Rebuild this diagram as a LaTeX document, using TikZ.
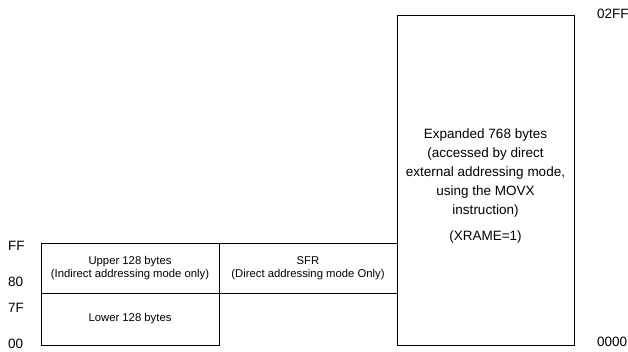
\documentclass[tikz,border=0pt]{standalone}
\usepackage{fontspec}
\setmainfont{Liberation Sans}
\usetikzlibrary{positioning}

\tikzset{
 membox/.style={draw=black, line width=0.8pt, outer sep=0pt, inner sep=0pt, align=center, minimum width=178pt, font=\fontsize{11.3}{12.6}\selectfont},
 bigbox/.style={membox, minimum width=177pt, minimum height=330pt},
 bigtext/.style={align=center, inner sep=0pt, font=\fontsize{13.5}{19}\selectfont},
 addr/.style={anchor=west, inner sep=0pt, font=\fontsize{13.5}{16}\selectfont}
}

\begin{document}
\begin{tikzpicture}[x=1pt,y=-1pt]
\useasboundingbox (0,0) rectangle (628,352);
% internal RAM
\node[membox, minimum height=50pt] (upper) at (130,268) {Upper 128 bytes\\(Indirect addressing mode only)};
\node[membox, minimum height=52pt, below=0pt of upper] (lower) {Lower 128 bytes};
\node[membox, minimum height=50pt, right=0pt of upper] (sfr) {SFR\\(Direct addressing mode Only)};
% expanded RAM
\node[bigbox, anchor=south west] (xram) at (sfr.east |- lower.south) {};
\node[bigtext] (xtext) at ([yshift=-6pt]xram.center) {Expanded 768 bytes\\(accessed by direct\\external addressing mode,\\using the MOVX\\instruction)\\[7pt](XRAME=1)};
% addresses
\foreach \lbl/\y in {FF/246, 80/282, 7F/308, 00/344} {
 \node[addr] (a\lbl) at (8,\y) {\lbl};
}
\node[addr] (xtop) at (597,14) {02FF};
\node[addr] (xbot) at (597,342) {0000};
\end{tikzpicture}
\end{document}
